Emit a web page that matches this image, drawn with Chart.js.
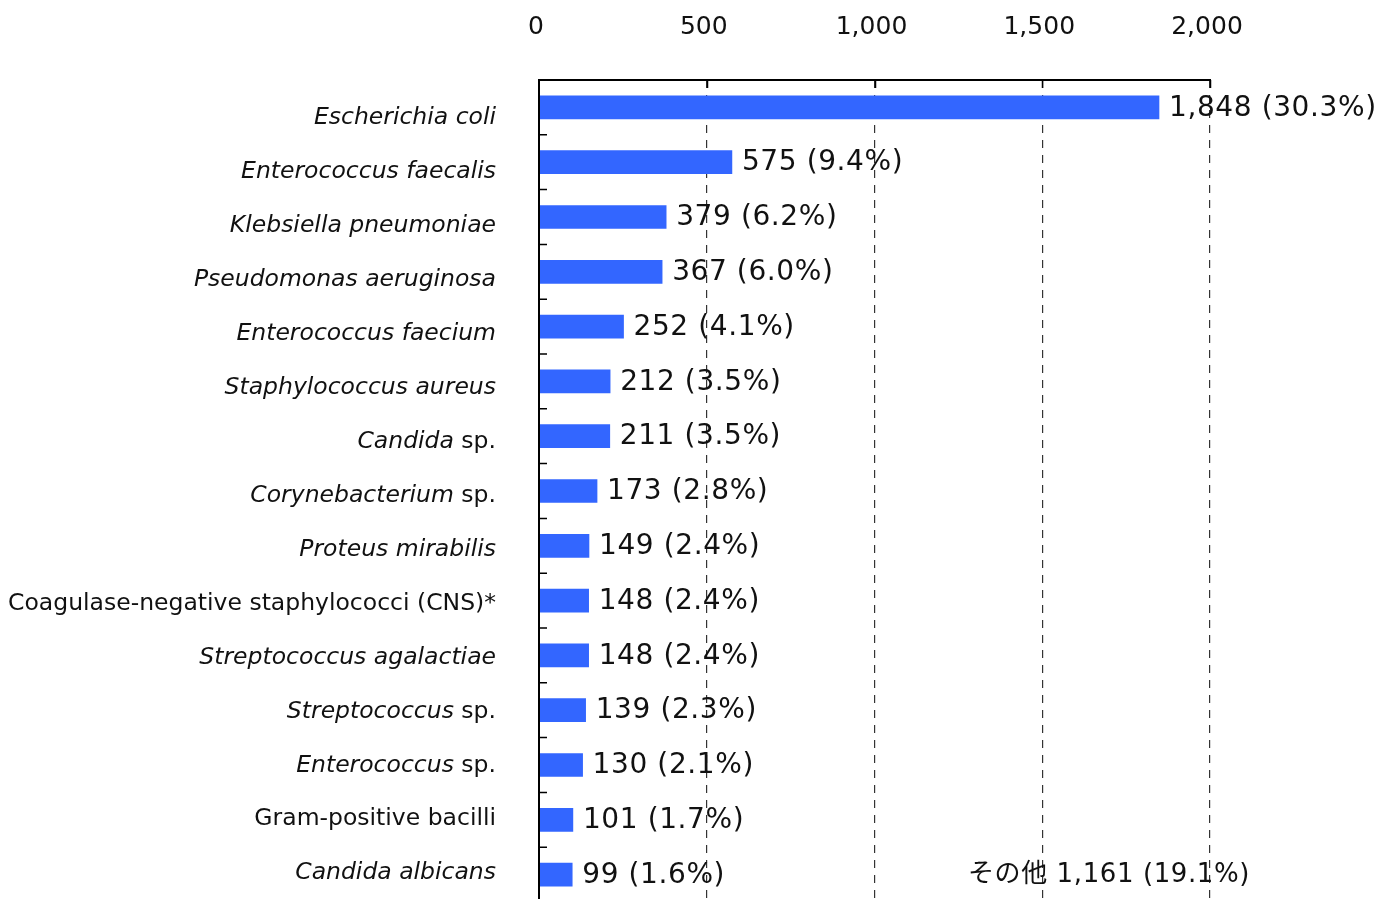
<!DOCTYPE html>
<html>
<head>
<meta charset="utf-8">
<script src="https://cdn.jsdelivr.net/npm/chart.js@4"></script>
<style>
  body { margin: 0; background: #fff; }
  #wrap { width: 1377px; height: 899px; overflow: hidden; }
</style>
</head>
<body>
<div id="wrap"><canvas id="chartCanvas" width="1377" height="902"></canvas></div>
<script>
const canvas = document.getElementById('chartCanvas');
const c = canvas.getContext('2d');

const species = [
    'Escherichia coli',
    'Enterococcus faecalis',
    'Klebsiella pneumoniae',
    'Pseudomonas aeruginosa',
    'Enterococcus faecium',
    'Staphylococcus aureus',
    'Candida sp.',
    'Corynebacterium sp.',
    'Proteus mirabilis',
    'Coagulase-negative staphylococci (CNS)*',
    'Streptococcus agalactiae',
    'Streptococcus sp.',
    'Enterococcus sp.',
    'Gram-positive bacilli',
    'Candida albicans'
];
const counts = [1848, 575, 379, 367, 252, 212, 211, 173, 149, 148, 148, 139, 130, 101, 99];
const percents = ['30.3', '9.4', '6.2', '6.0', '4.1', '3.5', '3.5', '2.8', '2.4', '2.4', '2.4', '2.3', '2.1', '1.7', '1.6'];
// names that are not set in italics
const romanLabels = ['Coagulase-negative staphylococci (CNS)*', 'Gram-positive bacilli'];
const otherLabel = 'その他';
const otherCount = 1161;
const otherPercent = '19.1';
const xTicks = [0, 500, 1000, 1500, 2000];

const fmt = (n) => n.toLocaleString('en-US');

// split a name into [text, italic] parts
const labelParts = (name) => {
    if (romanLabels.includes(name)) return [[name, false]];
    if (name.endsWith(' sp.')) return [[name.slice(0, -4), true], [' sp.', false]];
    return [[name, true]];
};

const drawExtras = {
    id: 'drawExtras',
    afterDatasetsDraw(chart) {
        const ctx = chart.ctx;
        const area = chart.chartArea;
        const xs = chart.scales.x;
        const ys = chart.scales.y;
        ctx.save();

        // axis lines
        ctx.strokeStyle = '#000';
        ctx.lineWidth = 2;
        ctx.beginPath();
        ctx.moveTo(area.left, area.bottom);
        ctx.lineTo(area.left, area.top);
        ctx.lineTo(area.right + 1, area.top);
        ctx.stroke();

        // inner tick marks
        ctx.lineWidth = 1.5;
        ctx.beginPath();
        xTicks.forEach(v => {
            if (v === 0) return;
            const x = Math.round(xs.getPixelForValue(v)) + 0.5;
            ctx.moveTo(x, area.top);
            ctx.lineTo(x, area.top + 8);
        });
        for (let i = 1; i < species.length; i++) {
            const y = (ys.getPixelForValue(i - 1) + ys.getPixelForValue(i)) / 2;
            ctx.moveTo(area.left, y);
            ctx.lineTo(area.left + 8, y);
        }
        ctx.stroke();

        // category labels (the label column runs a little tighter than the bars)
        ctx.fillStyle = '#111';
        ctx.textBaseline = 'middle';
        ctx.textAlign = 'left';
        species.forEach((name, i) => {
            const parts = labelParts(name);
            let w = 0;
            parts.forEach(([t, it]) => {
                ctx.font = (it ? 'italic ' : '') + '23.5px "DejaVu Sans"';
                w += ctx.measureText(t).width;
            });
            let x = area.left - 43 - w;
            const y = ys.getPixelForValue(i) + 10.6 - i * 0.85;
            parts.forEach(([t, it]) => {
                ctx.font = (it ? 'italic ' : '') + '23.5px "DejaVu Sans"';
                ctx.fillText(t, x, y);
                x += ctx.measureText(t).width;
            });
        });

        // value labels
        ctx.font = '28px "DejaVu Sans"';
        ctx.letterSpacing = '0.6px';
        counts.forEach((v, i) => {
            const x = xs.getPixelForValue(v) + 10;
            const y = ys.getPixelForValue(i) + 1;
            ctx.fillText(fmt(v) + ' (' + percents[i] + '%)', x, y);
        });

        // remaining species
        ctx.font = '26px "DejaVu Sans", "Noto Sans CJK JP"';
        ctx.textAlign = 'right';
        ctx.fillText(otherLabel + ' ' + fmt(otherCount) + ' (' + otherPercent + '%)',
            xs.getPixelForValue(2000) + 40, ys.getPixelForValue(species.length - 1) + 1);
        ctx.letterSpacing = '0px';

        ctx.restore();
    }
};

const data = {
    labels: species,
    datasets: [{
        data: counts,
        backgroundColor: '#3366FF',
        barThickness: 23
    }]
};

const options = {
    indexAxis: 'y',
    responsive: false,
    animation: false,
    layout: { padding: { left: 0, right: 167, top: 0, bottom: 0 } },
    plugins: { legend: { display: false }, tooltip: { enabled: false } },
    scales: {
        x: {
            position: 'top',
            min: 0,
            max: 2000,
            afterFit: (s) => { s.height = 80; },
            afterBuildTicks: (s) => { s.ticks = xTicks.map(v => ({ value: v })); },
            ticks: {
                padding: 38,
                labelOffset: -3,
                color: '#111',
                font: { family: '"DejaVu Sans"', size: 25 },
                callback: (v) => fmt(v)
            },
            grid: { color: '#333', lineWidth: 1.2, drawTicks: false },
            border: { display: false, dash: [8, 7] }
        },
        y: {
            afterFit: (s) => { s.width = 539; },
            ticks: { display: false },
            grid: { display: false, drawTicks: false },
            border: { display: false }
        }
    }
};

new Chart(c, { type: 'bar', data: data, options: options, plugins: [drawExtras] });
</script>
</body>
</html>
